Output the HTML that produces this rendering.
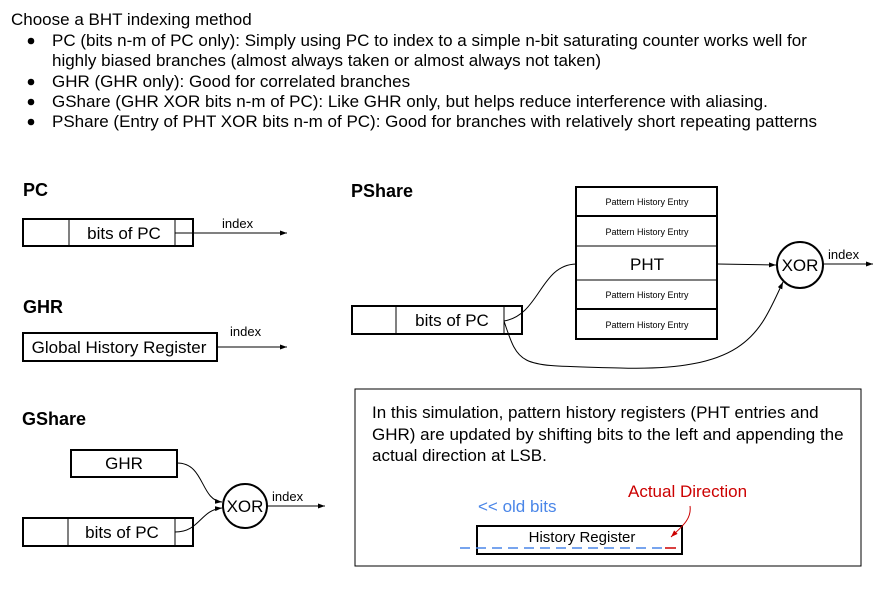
<!DOCTYPE html>
<html><head><meta charset="utf-8"><style>
html,body{margin:0;padding:0;background:#fff;}
svg{display:block;font-family:"Liberation Sans",Arial,sans-serif;}
</style></head><body>
<svg width="883" height="590" viewBox="0 0 883 590" xmlns="http://www.w3.org/2000/svg">
<defs>
<marker id="a" markerWidth="8" markerHeight="6" refX="7" refY="3" orient="auto" markerUnits="userSpaceOnUse"><path d="M0,0.5 L7,3 L0,5.5 z" fill="#000"/></marker>
<marker id="r" markerWidth="8" markerHeight="6" refX="7" refY="3" orient="auto" markerUnits="userSpaceOnUse"><path d="M0,0.5 L7,3 L0,5.5 z" fill="#c00"/></marker>
</defs>
<g font-size="17" fill="#000">
<text x="11" y="25">Choose a BHT indexing method</text>
<text x="52" y="46">PC (bits n-m of PC only): Simply using PC to index to a simple n-bit saturating counter works well  for</text>
<text x="52" y="66">highly biased branches (almost always taken or almost always not taken)</text>
<text x="52" y="87">GHR (GHR only): Good for correlated branches</text>
<text x="52" y="107">GShare (GHR XOR bits n-m of PC): Like GHR only, but helps reduce interference with aliasing.</text>
<text x="52" y="127">PShare (Entry of PHT XOR bits n-m of PC): Good for branches with relatively short repeating patterns</text>
</g>
<g fill="#000"><circle cx="31" cy="41" r="3.3"/><circle cx="31" cy="82" r="3.3"/><circle cx="31" cy="102" r="3.3"/><circle cx="31" cy="122" r="3.3"/></g>

<g font-weight="bold" font-size="18">
<text x="23" y="196">PC</text>
<text x="23" y="313">GHR</text>
<text x="22" y="425">GShare</text>
<text x="351" y="197">PShare</text>
</g>

<g fill="none" stroke="#000" stroke-width="2">
<rect x="23" y="219" width="170" height="27"/>
<line x1="69" y1="219" x2="69" y2="246" stroke-width="1"/>
<line x1="175" y1="219" x2="175" y2="246" stroke-width="1"/>
<rect x="23" y="333" width="194" height="28"/>
<rect x="71" y="450" width="106" height="27"/>
<rect x="23" y="518" width="170" height="28"/>
<line x1="68" y1="518" x2="68" y2="546" stroke-width="1"/>
<line x1="175" y1="518" x2="175" y2="546" stroke-width="1"/>
<circle cx="245" cy="506" r="22"/>
<rect x="352" y="306" width="170" height="28"/>
<line x1="396" y1="306" x2="396" y2="334" stroke-width="1"/>
<line x1="504" y1="306" x2="504" y2="334" stroke-width="1"/>
<rect x="576" y="187" width="141" height="152"/>
<line x1="576" y1="216" x2="717" y2="216"/>
<line x1="576" y1="246" x2="717" y2="246" stroke-width="1"/>
<line x1="576" y1="280" x2="717" y2="280" stroke-width="1"/>
<line x1="576" y1="309" x2="717" y2="309"/>
<circle cx="800" cy="265" r="23"/>
<rect x="355" y="389" width="506" height="177" stroke-width="1"/>
<rect x="477" y="526" width="205" height="28"/>
</g>

<g fill="none" stroke="#000" stroke-width="1">
<line x1="175" y1="233" x2="287" y2="233" marker-end="url(#a)"/>
<line x1="217" y1="347" x2="287" y2="347" marker-end="url(#a)"/>
<path d="M177,463 C205,463 200,500 222,502" marker-end="url(#a)"/>
<path d="M175,532 C200,532 200,510 222,508" marker-end="url(#a)"/>
<line x1="267" y1="506" x2="325" y2="506" marker-end="url(#a)"/>
<path d="M504,321 C540,315 540,265 576,264"/>
<line x1="717" y1="264" x2="776" y2="265" marker-end="url(#a)"/>
<path d="M504,321 C520,370 520,365 620,368 C750,372 760,330 783,282" marker-end="url(#a)"/>
<line x1="823" y1="264" x2="873" y2="264" marker-end="url(#a)"/>
</g>

<g font-size="17" text-anchor="middle">
<text x="124" y="239">bits of PC</text>
<text x="119" y="353">Global History Register</text>
<text x="124" y="469">GHR</text>
<text x="122" y="538">bits of PC</text>
<text x="245" y="512">XOR</text>
<text x="452" y="326">bits of PC</text>
<text x="647" y="270">PHT</text>
<text x="800" y="271">XOR</text>
</g>
<g font-size="9" text-anchor="middle">
<text x="647" y="205">Pattern History Entry</text>
<text x="647" y="235">Pattern History Entry</text>
<text x="647" y="298">Pattern History Entry</text>
<text x="647" y="328">Pattern History Entry</text>
</g>
<g font-size="13">
<text x="222" y="228">index</text>
<text x="230" y="336">index</text>
<text x="272" y="501">index</text>
<text x="828" y="259">index</text>
</g>

<g font-size="17">
<text x="372" y="418">In this simulation, pattern history registers (PHT entries and</text>
<text x="372" y="440">GHR) are updated by shifting bits to the left and appending the</text>
<text x="372" y="461">actual direction at LSB.</text>
<text x="478" y="512" fill="#4a86e8">&lt;&lt; old bits</text>
<text x="628" y="497" fill="#cc0000">Actual Direction</text>
</g>
<text x="582" y="542" font-size="15" text-anchor="middle">History Register</text>
<line x1="460" y1="548" x2="662" y2="548" stroke="#4a86e8" stroke-width="1.5" stroke-dasharray="10,6"/>
<line x1="665" y1="548" x2="676" y2="548" stroke="#cc0000" stroke-width="1.5"/>
<path d="M690,506 C692,520 680,528 671,537" fill="none" stroke="#cc0000" stroke-width="1" marker-end="url(#r)"/>
</svg>
</body></html>
